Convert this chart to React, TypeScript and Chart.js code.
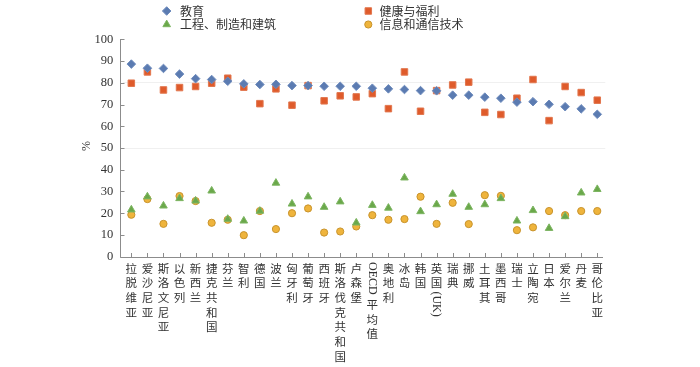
import React, { useEffect, useRef } from 'react';
import { Chart, registerables } from 'chart.js';

Chart.register(...registerables);

const categories = [
  '拉脱维亚', '爱沙尼亚', '斯洛文尼亚', '以色列', '新西兰', '捷克共和国', '芬兰', '智利', '德国', '波兰',
  '匈牙利', '葡萄牙', '西班牙', '斯洛伐克共和国', '卢森堡', 'OECD平均值', '奥地利', '冰岛', '韩国', '英国(UK)',
  '瑞典', '挪威', '土耳其', '墨西哥', '瑞士', '立陶宛', '日本', '爱尔兰', '丹麦', '哥伦比亚',
];

const education = [
  88.6, 86.7, 86.6, 84.0, 81.9, 81.5, 80.7, 79.5, 79.2, 79.3,
  78.7, 78.7, 78.4, 78.4, 78.4, 77.5, 77.2, 76.9, 76.4, 76.3,
  74.3, 74.3, 73.4, 72.9, 71.1, 71.3, 70.1, 69.0, 68.0, 65.5,
];

const health = [
  79.8, 85.0, 76.7, 77.8, 78.3, 79.8, 82.1, 78.0, 70.4, 77.2,
  69.7, 78.7, 71.7, 74.0, 73.5, 75.0, 68.1, 85.0, 66.9, 76.4,
  79.0, 80.3, 66.4, 65.4, 72.9, 81.5, 62.6, 78.3, 75.5, 72.0,
];

const engineering = [
  21.6, 27.6, 23.4, 26.8, 25.7, 30.3, 17.3, 16.5, 21.0, 33.9,
  24.3, 27.6, 22.8, 25.3, 15.6, 23.7, 22.4, 36.3, 20.8, 24.0,
  28.8, 22.8, 24.0, 26.8, 16.5, 21.3, 13.1, 18.5, 29.4, 31.0,
];

const ict = [
  19.3, 26.5, 15.1, 27.9, 25.6, 15.6, 17.0, 9.9, 21.0, 12.7,
  20.0, 22.2, 11.1, 11.6, 13.9, 19.1, 17.0, 17.3, 27.6, 15.1,
  24.8, 15.0, 28.3, 28.0, 12.2, 13.5, 21.0, 19.1, 21.0, 21.0,
];

const seriesLabels = ['教育', '健康与福利', '工程、制造和建筑', '信息和通信技术'];
const yAxisTitle = '%';

const BLUE = '#5b7bb1';
const RED = '#df5b2b';
const GREEN = '#6aa84a';
const GOLD = '#efb43c';
const GOLD_BORDER = '#c8932c';

const CJK_FONT = '"Noto Sans CJK SC", sans-serif';
const SERIF = '"Liberation Serif", "DejaVu Serif", serif';
const TEXT_COLOR = '#333333';
const AXIS_COLOR = '#8c8c8c';

function drawMarker(ctx: CanvasRenderingContext2D, style: string, x: number, y: number, r: number, fill: string, stroke: string) {
  ctx.save();
  ctx.beginPath();
  if (style === 'rectRot') {
    ctx.moveTo(x, y - r);
    ctx.lineTo(x + r, y);
    ctx.lineTo(x, y + r);
    ctx.lineTo(x - r, y);
    ctx.closePath();
  } else if (style === 'rect') {
    const s = r * Math.SQRT1_2;
    ctx.rect(x - s, y - s, 2 * s, 2 * s);
  } else if (style === 'triangle') {
    const h = r * 1.5;
    ctx.moveTo(x, y - r);
    ctx.lineTo(x + r * 0.866, y + r * 0.5);
    ctx.lineTo(x - r * 0.866, y + r * 0.5);
    ctx.closePath();
    void h;
  } else {
    ctx.arc(x, y, r, 0, Math.PI * 2);
  }
  ctx.fillStyle = fill;
  ctx.fill();
  ctx.lineWidth = 1;
  ctx.strokeStyle = stroke;
  ctx.stroke();
  ctx.restore();
}

const isCJK = (ch: string) => /[\u3000-\u9fff\uff00-\uffef]/.test(ch);

function splitRuns(label: string): { text: string; cjk: boolean }[] {
  const runs: { text: string; cjk: boolean }[] = [];
  for (const ch of Array.from(label)) {
    const c = isCJK(ch);
    if (c) {
      runs.push({ text: ch, cjk: true });
    } else {
      const last = runs[runs.length - 1];
      if (last && !last.cjk) last.text += ch;
      else runs.push({ text: ch, cjk: false });
    }
  }
  return runs;
}

const decorPlugin = {
  id: 'decor',
  beforeDatasetsDraw(chart: any) {
    const ctx: CanvasRenderingContext2D = chart.ctx;
    const xs = chart.scales.x;
    const ys = chart.scales.y;
    const top = ys.getPixelForValue(100);
    const bottom = ys.getPixelForValue(0);
    const axisX = 120.5;
    const axisY = Math.round(bottom) + 0.5;
    const rightEnd = 603;
    ctx.save();
    ctx.strokeStyle = AXIS_COLOR;
    ctx.lineWidth = 1;
    ctx.beginPath();
    ctx.moveTo(axisX, Math.round(top));
    ctx.lineTo(axisX, axisY);
    ctx.lineTo(rightEnd, axisY);
    ctx.stroke();
    // y ticks (inward)
    ctx.beginPath();
    for (let v = 0; v <= 100; v += 10) {
      const py = Math.round(ys.getPixelForValue(v)) + 0.5;
      ctx.moveTo(axisX, py);
      ctx.lineTo(axisX + 4, py);
    }
    // x ticks (inward)
    categories.forEach((_, i) => {
      const px = Math.round(xs.getPixelForValue(i)) + 0.5;
      ctx.moveTo(px, axisY);
      ctx.lineTo(px, axisY - 4.5);
    });
    ctx.stroke();
    ctx.restore();
  },
  afterDraw(chart: any) {
    const ctx: CanvasRenderingContext2D = chart.ctx;
    const xs = chart.scales.x;
    ctx.save();
    ctx.fillStyle = TEXT_COLOR;
    // vertical category labels
    categories.forEach((label, i) => {
      const px = xs.getPixelForValue(i);
      let cursor = 261;
      for (const run of splitRuns(label)) {
        if (run.cjk) {
          ctx.font = `11.5px ${CJK_FONT}`;
          ctx.textAlign = 'center';
          ctx.textBaseline = 'middle';
          ctx.fillText(run.text, px, cursor + 7.3);
          cursor += 14.7;
        } else {
          ctx.font = `12px ${SERIF}`;
          const w = ctx.measureText(run.text).width;
          ctx.save();
          ctx.translate(px, cursor + 1);
          ctx.rotate(Math.PI / 2);
          ctx.textAlign = 'left';
          ctx.textBaseline = 'middle';
          ctx.fillText(run.text, 0, 0);
          ctx.restore();
          cursor += w + 3.5;
        }
      }
    });
    // y title
    ctx.save();
    ctx.translate(86.5, 146);
    ctx.rotate(-Math.PI / 2);
    ctx.font = `12px ${SERIF}`;
    ctx.textAlign = 'center';
    ctx.textBaseline = 'middle';
    ctx.fillText(yAxisTitle, 0, 0);
    ctx.restore();
    // legend
    const ds = chart.data.datasets;
    const slots = [
      { mx: 166.7, tx: 180, y: 11 },
      { mx: 368.3, tx: 379.5, y: 11 },
      { mx: 166.7, tx: 180, y: 24.5 },
      { mx: 368.3, tx: 379.5, y: 24.5 },
    ];
    ds.forEach((d: any, i: number) => {
      const s = slots[i];
      drawMarker(ctx, d.pointStyle, s.mx, s.y, d.pointRadius, d.backgroundColor, d.borderColor);
      ctx.font = `12px ${CJK_FONT}`;
      ctx.fillStyle = TEXT_COLOR;
      ctx.textAlign = 'left';
      ctx.textBaseline = 'middle';
      ctx.fillText(d.label, s.tx, s.y);
    });
    ctx.restore();
  },
};

export default function App() {
  const canvasRef = useRef<HTMLCanvasElement | null>(null);

  useEffect(() => {
    if (!canvasRef.current) return;
    const mk = (label: string, data: number[], style: string, r: number, fill: string, border: string) => ({
      label,
      data,
      showLine: false,
      pointStyle: style,
      pointRadius: r,
      pointHoverRadius: r,
      pointBorderWidth: 1,
      backgroundColor: fill,
      borderColor: border,
      pointBackgroundColor: fill,
      pointBorderColor: border,
    });
    const chart = new Chart(canvasRef.current, {
      type: 'line',
      data: {
        labels: categories,
        datasets: [
          mk(seriesLabels[0], education, 'rectRot', 4.3, BLUE, '#6f8cbd'),
          mk(seriesLabels[1], health, 'rect', 4.6, RED, '#e2774f'),
          mk(seriesLabels[2], engineering, 'triangle', 4.4, GREEN, '#7db562'),
          mk(seriesLabels[3], ict, 'circle', 3.6, GOLD, GOLD_BORDER),
        ] as any,
      },
      options: {
        animation: false,
        responsive: true,
        maintainAspectRatio: false,
        layout: { padding: { left: 0, top: 39.3, right: 94.7, bottom: 110.3 } },
        plugins: {
          legend: { display: false },
          tooltip: { enabled: false },
        },
        scales: {
          x: {
            type: 'category',
            display: false,
            offset: true,
          },
          y: {
            min: 0,
            max: 100,
            afterFit: (scale: any) => {
              scale.width = 123.3;
            },
            border: { display: false },
            grid: {
              drawTicks: false,
              color: (c: any) => (c.tick && (c.tick.value === 80 || c.tick.value === 50) ? 'rgba(0,0,0,0.06)' : 'rgba(0,0,0,0)'),
            },
            ticks: {
              stepSize: 10,
              padding: 10,
              color: TEXT_COLOR,
              font: { family: SERIF, size: 12.5 },
            },
          },
        },
      },
      plugins: [decorPlugin],
    });
    return () => chart.destroy();
  }, []);

  return (
    <div style={{ position: 'fixed', left: 0, top: 0, width: 700, height: 367, background: '#fff' }}>
      <canvas ref={canvasRef} />
    </div>
  );
}
